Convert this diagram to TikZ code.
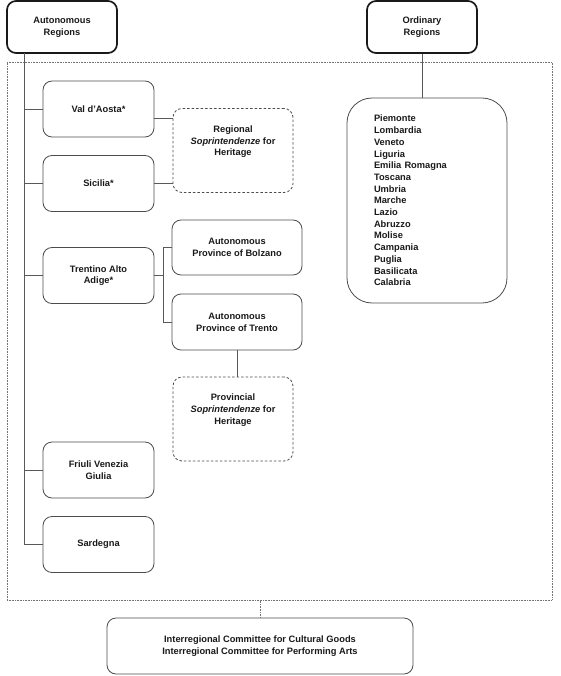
\documentclass[tikz,border=0pt]{standalone}
\usepackage{fontspec}
\setmainfont{Liberation Sans}
\usetikzlibrary{positioning}

\begin{document}
\begin{tikzpicture}[x=1pt, y=-1pt,
		every node/.style={font=\fontsize{9.3}{11.7}\selectfont\bfseries, text=black!90},
		region/.style={draw=black!70, line width=0.8pt, rounded corners=9pt, minimum width=111pt, minimum height=56pt, align=center, inner sep=0pt},
		toplevel/.style={region, draw=black!90, line width=1.7pt, minimum width=110pt, minimum height=52pt},
		sopbox/.style={region, dash pattern=on 2.5pt off 2pt, minimum width=120pt, minimum height=84pt},
		framebox/.style={draw=black!55, dash pattern=on 0.8pt off 0.8pt, minimum width=545pt, minimum height=538pt, inner sep=0pt},
		link/.style={draw=black!65, line width=0.8pt}]
				\useasboundingbox (0,0) rectangle (560,676);
				% Outer dotted frame
				\node[framebox] (frame) at (279.5,331) {};
				% Top level
				\node[toplevel] (autreg) at (62,27) {Autonomous\\Regions};
				\node[toplevel] (ordreg) at (422,27) {Ordinary\\Regions};
				% Autonomous regions
				\node[region] (valdaosta) at (98.5,109) {Val d'Aosta*};
				\node[region] (sicilia) at (98.5,183.5) {Sicilia*};
				\node[region] (trentino) at (98.5,275.5) {Trentino Alto\\Adige*};
				\node[region] (friuli) at (98.5,470) {Friuli Venezia\\Giulia};
				\node[region] (sardegna) at (98.5,544.5) {Sardegna};
				\node[sopbox] (regsop) at (233,150.5) {Regional\\\textit{Soprintendenze} for\\Heritage\\[8pt]~};
				\node[region, minimum width=130pt, minimum height=55pt] (bolzano) at (237,247.5) {Autonomous\\Province of Bolzano};
				\node[region, minimum width=130pt, minimum height=56pt] (trento) at (237,322) {Autonomous\\Province of Trento};
				\node[sopbox] (provsop) at (233,419) {Provincial\\\textit{Soprintendenze} for\\Heritage\\[8pt]~};
				% Ordinary regions
				\node[region, rounded corners=25pt, minimum width=160pt, minimum height=205pt, text width=106pt, align=left] (ordlist) at (427,200.5)
					{Piemonte\\Lombardia\\Veneto\\Liguria\\Emilia Romagna\\Toscana\\Umbria\\Marche\\Lazio\\Abruzzo\\Molise\\Campania\\Puglia\\Basilicata\\Calabria};
				% Committees
				\node[region, minimum width=306pt, minimum height=56pt] (interreg) at (260,646) {Interregional Committee for Cultural Goods\\Interregional Committee for Performing Arts};
				% Connectors
				\coordinate (trunk) at (24,53);
				\draw[link] (trunk) -- (trunk |- sardegna.west);
				\foreach \r in {valdaosta, sicilia, trentino, friuli, sardegna}
					\draw[link] (trunk |- \r.west) -- (\r.west);
				\coordinate (vaout) at ([yshift=-9pt]valdaosta.east);
				\draw[link] (vaout) -- (vaout -| regsop.west);
				\draw[link] (sicilia.east) -- (sicilia.east -| regsop.west);
				\coordinate (fork) at (163,275.5);
				\draw[link] (trentino.east) -- (fork);
				\draw[link] (bolzano.west -| fork) -- (trento.west -| fork);
				\draw[link] (bolzano.west -| fork) -- (bolzano.west);
				\draw[link] (trento.west -| fork) -- (trento.west);
				\draw[link] (trento.south) -- (trento.south |- provsop.north);
				\draw[link] (ordreg.south) -- (ordreg.south |- ordlist.north);
				\draw[draw=black!55, dash pattern=on 0.8pt off 0.8pt, line width=0.8pt] (interreg.north) -- (interreg.north |- frame.south);
			\end{tikzpicture}
\end{document}
